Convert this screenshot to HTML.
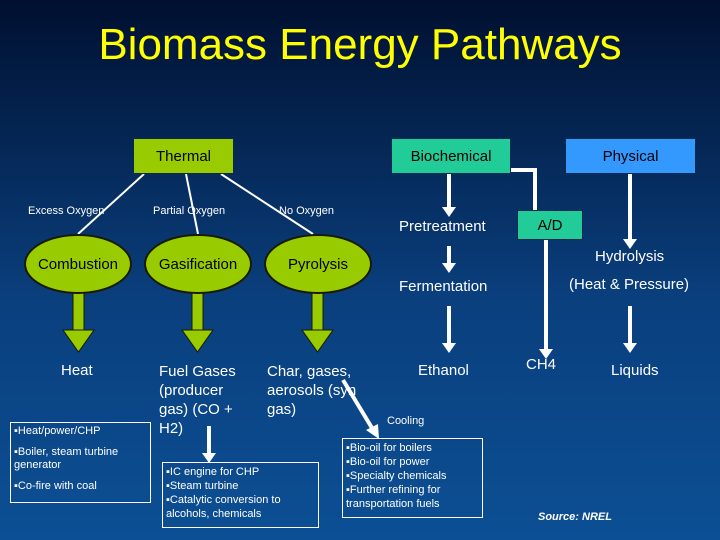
<!DOCTYPE html>
<html><head><style>
body{margin:0;width:720px;height:540px;overflow:hidden;background:linear-gradient(#001030,#0a3f7d 55%,#0c4f94);font-family:"Liberation Sans",sans-serif;position:relative;color:#fff}
.a{position:absolute;white-space:nowrap}
.box{position:absolute;display:flex;align-items:center;justify-content:center;color:#000;font-size:15px;border:1px solid #0a2a50;box-sizing:border-box}
.ell{position:absolute;border-radius:50%;background:#99cc00;border:2px solid #1a1a00;box-sizing:border-box;display:flex;align-items:center;justify-content:center;color:#000;font-size:15px}
.sm{font-size:11px}
.md{font-size:15px}
.lst{position:absolute;border:1px solid #fff;font-size:11px;line-height:14px;padding:2px 3px;box-sizing:border-box}
</style></head><body>
<div class="a" style="left:0;width:720px;text-align:center;top:20px;font-size:44px;color:#ffff00">Biomass Energy Pathways</div>
<svg class="a" style="left:0;top:0" width="720" height="540">
<g stroke="#fff" stroke-width="2">
<line x1="144" y1="174" x2="78" y2="234"/><line x1="186" y1="174" x2="198" y2="234"/><line x1="221" y1="174" x2="313" y2="234"/>
</g>
<g fill="#99cc00" stroke="#1a1a00" stroke-width="1">
<rect x="73" y="292" width="11" height="38"/><polygon points="63,330 94,330 78.5,352"/>
<rect x="192" y="292" width="11" height="38"/><polygon points="182,330 213,330 197.5,352"/>
<rect x="312" y="292" width="11" height="38"/><polygon points="302,330 333,330 317.5,352"/>
</g>
<g stroke="#fff" stroke-width="4" fill="none">
<polyline points="510,170 535,170 535,210"/>
<line x1="449" y1="174" x2="449" y2="208"/><line x1="449" y1="246" x2="449" y2="264"/><line x1="449" y1="306" x2="449" y2="344"/>
<line x1="546" y1="240" x2="546" y2="350"/>
<line x1="630" y1="174" x2="630" y2="240"/><line x1="630" y1="306" x2="630" y2="344"/>
<line x1="209" y1="426" x2="209" y2="454"/>
<line x1="343" y1="380" x2="372" y2="428"/>
</g>
<g fill="#fff">
<polygon points="442,207 456,207 449,217"/><polygon points="442,263 456,263 449,273"/><polygon points="442,343 456,343 449,353"/>
<polygon points="539,349 553,349 546,359"/>
<polygon points="623,239 637,239 630,249"/><polygon points="623,343 637,343 630,353"/>
<polygon points="202,453 216,453 209,463"/>
<polygon points="366,430 378,424 379,439"/>
</g>
</svg>
<div class="box" style="left:133px;top:138px;width:101px;height:36px;background:#99cc00">Thermal</div>
<div class="box" style="left:391px;top:138px;width:120px;height:36px;background:#22cc99">Biochemical</div>
<div class="box" style="left:565px;top:138px;width:131px;height:36px;background:#3399ff">Physical</div>
<div class="box" style="left:517px;top:210px;width:66px;height:30px;background:#22cc99">A/D</div>
<div class="a sm" style="left:28px;top:205px">Excess Oxygen</div>
<div class="a sm" style="left:153px;top:205px">Partial Oxygen</div>
<div class="a sm" style="left:279px;top:205px">No Oxygen</div>
<div class="ell" style="left:24px;top:234px;width:108px;height:60px">Combustion</div>
<div class="ell" style="left:144px;top:234px;width:108px;height:60px">Gasification</div>
<div class="ell" style="left:264px;top:234px;width:108px;height:60px">Pyrolysis</div>
<div class="a md" style="left:399px;top:218px">Pretreatment</div>
<div class="a md" style="left:399px;top:278px">Fermentation</div>
<div class="a md" style="left:418px;top:362px">Ethanol</div>
<div class="a md" style="left:526px;top:356px">CH4</div>
<div class="a md" style="left:595px;top:248px">Hydrolysis</div>
<div class="a md" style="left:569px;top:276px">(Heat &amp; Pressure)</div>
<div class="a md" style="left:611px;top:362px">Liquids</div>
<div class="a md" style="left:61px;top:362px">Heat</div>
<div class="a md" style="left:159px;top:362px;line-height:19px">Fuel Gases<br>(producer<br>gas) (CO +<br>H2)</div>
<div class="a md" style="left:267px;top:362px;line-height:19px">Char, gases,<br>aerosols (syn<br>gas)</div>
<div class="a sm" style="left:387px;top:415px">Cooling</div>
<div class="lst" style="left:10px;top:422px;width:141px;height:81px;line-height:13px">▪Heat/power/CHP<div style="height:8px"></div>▪Boiler, steam turbine generator<div style="height:8px"></div>▪Co-fire with coal</div>
<div class="lst" style="left:162px;top:462px;width:157px;height:66px">▪IC engine for CHP<br>▪Steam turbine<br>▪Catalytic conversion to alcohols, chemicals</div>
<div class="lst" style="left:342px;top:438px;width:141px;height:80px">▪Bio-oil for boilers<br>▪Bio-oil for power<br>▪Specialty chemicals<br>▪Further refining for transportation fuels</div>
<div class="a sm" style="left:538px;top:511px;font-weight:bold;font-style:italic">Source: NREL</div>
</body></html>
